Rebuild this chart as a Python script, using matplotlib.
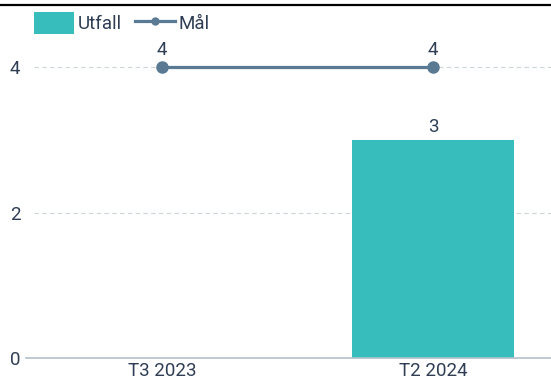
import matplotlib
matplotlib.use("Agg")
import matplotlib.pyplot as plt
from matplotlib.lines import Line2D
from matplotlib.patches import Patch
import numpy as np

categories = ["T3 2023", "T2 2024"]
utfall = [np.nan, 3]
maal = [4, 4]
yticks = [0, 2, 4]

TEAL = "#38BDBD"
SLATE = "#5A7A93"
TEXT = "#2F3E55"
GRID = "#CCD4DC"
BASE = "#B3C0CB"
FS = 13.5

plt.rcParams['font.family'] = ['Roboto', 'DejaVu Sans']

W, H = 551, 381
fig = plt.figure(figsize=(W/100, H/100), dpi=100)
left, right, bottom, top = 26, 551, 358, 30
ax = fig.add_axes([left/W, 1 - bottom/H, (right-left)/W, (bottom-top)/H])

x = np.arange(len(categories))
ax.bar(x, utfall, width=0.6, color=TEAL, zorder=2)
ax.plot(x, maal, color=SLATE, lw=2.3, marker='o', markersize=8, zorder=3)

for xi, v in zip(x, utfall):
    if not np.isnan(v):
        ax.annotate(f"{v:g}", (xi, v), xytext=(0, 3), textcoords='offset points',
                    ha='center', va='bottom', color=TEXT, fontsize=FS)
for xi, v in zip(x, maal):
    ax.annotate(f"{v:g}", (xi, v), xytext=(0, 6), textcoords='offset points',
                ha='center', va='bottom', color=TEXT, fontsize=FS)

ax.set_xlim(-0.502, 1.435)
ax.set_ylim(0, (bottom-top)/((358-67)/4))
ax.set_yticks(yticks)
ax.set_yticklabels([str(t) for t in yticks])
ax.set_xticks(x)
ax.set_xticklabels(categories)
ax.tick_params(axis='both', length=0, colors=TEXT, labelsize=FS)
ax.tick_params(axis='y', pad=4)
ax.tick_params(axis='x', pad=3)
for s in ['top', 'right', 'left']:
    ax.spines[s].set_visible(False)
ax.spines['bottom'].set_color(BASE)
ax.spines['bottom'].set_linewidth(1.2)
for t in yticks:
    if t != 0:
        ax.axhline(t, xmin=8/(right-left), xmax=1, color=GRID,
                   linestyle=(0, (4, 3)), linewidth=0.8, zorder=0)

handles = [Patch(facecolor=TEAL, edgecolor='none'),
           Line2D([0], [0], color=SLATE, lw=2.3, marker='o', markersize=5)]
fig.legend(handles, ["Utfall", "Mål"], loc='upper left', bbox_to_anchor=(34/W, 1 - 12/H),
           ncol=2, frameon=False, fontsize=FS, handlelength=2.13, handleheight=1.4,
           handletextpad=0.2, columnspacing=0.7, borderpad=0, borderaxespad=0,
           labelcolor=TEXT)

fig.add_artist(Line2D([0, 1], [1 - 5/H, 1 - 5/H], color='black', lw=1.6,
                      transform=fig.transFigure))

fig.savefig("out.png", dpi=100)
